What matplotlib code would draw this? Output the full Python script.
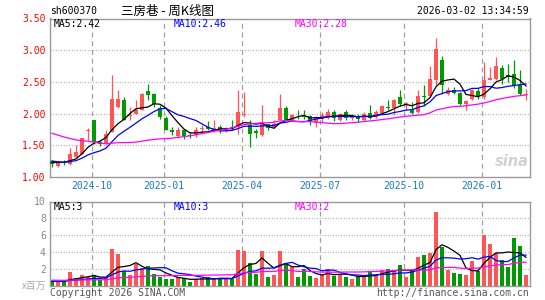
import numpy as np
import pandas as pd
import matplotlib
matplotlib.use("Agg")
import matplotlib.pyplot as plt

plt.rcParams['font.family'] = ['DejaVu Sans Mono']

# weekly OHLC, 80 weeks
opens = [1.247, 1.174, 1.237, 1.211, 1.316, 1.358, 1.726, 1.895, 1.553, 1.526,
         1.711, 2.105, 2.210, 1.958, 2.000, 2.053, 2.353, 2.305, 2.095, 1.937,
         1.737, 1.642, 1.747, 1.658, 1.658, 1.758, 1.789, 1.737, 1.789, 1.726,
         1.789, 1.789, 1.974, 1.816, 1.721, 1.658, 1.832, 1.789, 1.895, 2.095,
         1.905, 1.950, 1.960, 1.958, 1.853, 1.921, 1.937, 2.026, 1.905, 2.026,
         1.937, 1.958, 1.905, 2.011, 1.947, 2.011, 2.100, 2.095, 2.263, 2.150,
         2.053, 2.026, 2.280, 2.274, 2.537, 2.853, 2.316, 2.368, 2.326, 2.147,
         2.237, 2.353, 2.263, 2.537, 2.553, 2.726, 2.605, 2.621, 2.447, 2.300]
highs = [1.263, 1.253, 1.263, 1.463, 1.500, 1.621, 1.774, 1.895, 1.579, 1.737,
         2.605, 2.368, 2.263, 2.105, 2.210, 2.326, 2.463, 2.332, 2.132, 1.958,
         1.789, 1.789, 1.763, 1.711, 1.789, 1.816, 1.884, 1.895, 1.816, 1.789,
         1.895, 2.368, 2.342, 1.905, 1.763, 2.132, 1.842, 1.895, 2.305, 2.116,
         1.990, 2.053, 2.063, 1.974, 1.958, 2.026, 2.079, 2.053, 2.011, 2.053,
         2.000, 2.000, 2.026, 2.132, 2.053, 2.132, 2.221, 2.237, 2.368, 2.184,
         2.184, 2.379, 2.447, 2.747, 3.200, 2.905, 2.421, 2.421, 2.342, 2.210,
         2.395, 2.411, 2.816, 2.737, 2.895, 2.763, 2.779, 2.853, 2.695, 2.395]
lows = [1.158, 1.158, 1.184, 1.184, 1.300, 1.358, 1.579, 1.526, 1.489, 1.526,
        1.711, 2.095, 1.895, 1.895, 2.000, 2.053, 2.210, 2.105, 1.921, 1.737,
        1.658, 1.621, 1.605, 1.621, 1.632, 1.711, 1.737, 1.711, 1.695, 1.711,
        1.737, 1.674, 1.947, 1.474, 1.621, 1.642, 1.747, 1.779, 1.895, 1.895,
        1.895, 1.921, 1.920, 1.816, 1.789, 1.868, 1.921, 1.884, 1.884, 1.905,
        1.905, 1.868, 1.884, 1.921, 1.937, 1.989, 2.063, 1.974, 2.116, 2.063,
        2.000, 2.011, 2.116, 2.263, 2.447, 2.316, 2.289, 2.305, 2.132, 2.063,
        2.221, 2.237, 2.237, 2.526, 2.537, 2.474, 2.500, 2.411, 2.289, 2.210]
closes = [1.211, 1.237, 1.226, 1.358, 1.395, 1.616, 1.747, 1.553, 1.516, 1.684,
          2.226, 2.226, 1.895, 1.979, 2.053, 2.305, 2.289, 2.147, 1.947, 1.747,
          1.711, 1.737, 1.642, 1.642, 1.747, 1.768, 1.763, 1.779, 1.726, 1.779,
          1.763, 2.026, 2.000, 1.684, 1.695, 1.842, 1.779, 1.842, 2.095, 1.905,
          1.974, 1.940, 1.950, 1.884, 1.937, 1.974, 2.026, 1.937, 1.989, 1.937,
          1.958, 1.921, 1.989, 1.937, 2.026, 2.116, 2.090, 2.211, 2.147, 2.160,
          2.011, 2.274, 2.260, 2.553, 3.016, 2.447, 2.379, 2.326, 2.158, 2.200,
          2.368, 2.274, 2.537, 2.568, 2.747, 2.553, 2.580, 2.432, 2.305, 2.310]
# weekly volume, x 1e6
volumes = [0.59, 0.43, 0.47, 1.65, 0.94, 1.26, 0.98, 1.26, 0.67, 0.90,
           4.30, 3.80, 1.70, 1.30, 2.60, 2.10, 2.30, 1.40, 1.00, 0.75,
           0.75, 1.00, 0.90, 0.40, 0.80, 0.90, 1.00, 0.90, 0.80, 0.80,
           0.80, 4.20, 4.10, 2.70, 1.40, 4.10, 1.00, 1.26, 4.10, 2.70,
           2.20, 1.00, 2.00, 1.10, 0.95, 1.26, 2.00, 1.20, 1.40, 1.00,
           0.80, 1.00, 1.30, 1.70, 1.26, 1.85, 2.00, 1.85, 2.40, 1.00,
           1.70, 3.40, 3.70, 3.90, 8.70, 4.60, 1.85, 1.50, 1.40, 1.26,
           2.95, 1.70, 6.00, 4.90, 3.90, 3.00, 2.20, 5.70, 4.70, 1.26]
# earlier weeks, only used to start the moving averages
hist_close = [2.12, 2.08, 2.10, 2.04, 2.00, 1.98, 2.00, 2.02, 1.98, 1.95,
              1.92, 1.90, 1.92, 1.88, 1.85, 1.82, 1.78, 1.72, 1.62, 1.48,
              1.36, 1.30, 1.26, 1.24, 1.22, 1.23, 1.21, 1.24, 1.25]
hist_vol = [0.90, 0.80, 0.85, 0.70, 0.75, 0.90, 0.80, 0.70, 0.65, 0.70,
            0.75, 0.60, 0.70, 0.80, 0.65, 0.60, 0.70, 0.75, 0.60, 0.55,
            0.60, 0.50, 0.55, 0.60, 0.50, 0.45, 0.50, 0.55, 0.50]

month_labels = ['2024-10', '2025-01', '2025-04', '2025-07', '2025-10', '2026-01']
month_pos = [6.72, 18.72, 31.72, 44.72, 58.72, 71.72]
price_ma_text = ['MA5:2.42', 'MA10:2.46', 'MA30:2.28']
vol_ma_text = ['MA5:3', 'MA10:3', 'MA30:2']

RED = '#ff5555'
GREEN = '#009900'
MA_COLORS = ['black', '#0000ff', '#ff00ff']
GRID = '#a0a0a0'

n = len(closes)
x = np.arange(n)
o = np.array(opens); c = np.array(closes)
up = c >= o
cols = [RED if u else GREEN for u in up]

full_c = pd.Series(hist_close + closes)
full_v = pd.Series(hist_vol + volumes)
price_ma = [full_c.rolling(k).mean().values[-n:] for k in (5, 10, 30)]
vol_ma = [full_v.rolling(k).mean().values[-n:] for k in (5, 10, 30)]

fig = plt.figure(figsize=(5.45, 3.0), dpi=100)
W, H = 545.0, 300.0
ax = fig.add_axes([50 / W, 1 - 177 / H, 480 / W, 158.5 / H])
axv = fig.add_axes([50 / W, 1 - 285.7 / H, 480 / W, 84.2 / H])

for a in (ax, axv):
    a.set_xlim(-0.33, n - 0.33)
    for s in a.spines.values():
        s.set_color('#999999')
        s.set_linewidth(1.0)
    a.tick_params(length=0)
    for p in month_pos:
        a.axvline(p, color=GRID, lw=0.9, dashes=(4, 3), zorder=0)

# price panel
ax.set_ylim(1.0, 3.5)
for yv in [1.5, 2.0, 2.5, 3.0]:
    ax.axhline(yv, color=GRID, lw=0.8, dashes=(0.8, 1.6), zorder=0)
ax.vlines(x, lows, highs, colors=cols, lw=0.9, zorder=2)
body = np.maximum(np.abs(c - o), 0.006)
ax.bar(x, body, bottom=np.minimum(o, c), width=0.8, color=cols, lw=0, zorder=3)
for ma, col in zip(price_ma, MA_COLORS):
    ax.plot(x, ma, color=col, lw=0.9, zorder=4)
ax.set_yticks([1.0, 1.5, 2.0, 2.5, 3.0, 3.5])
ax.set_yticklabels(['%.2f' % v for v in [1.0, 1.5, 2.0, 2.5, 3.0, 3.5]],
                   color='#ff0000', fontsize=7)
ax.tick_params(axis='y', pad=3)
ax.set_xticks(month_pos)
ax.set_xticklabels(month_labels, color='#1a78c2', fontsize=7)
ax.tick_params(axis='x', pad=3)
for txt, col, xp in zip(price_ma_text, MA_COLORS, [54, 174, 295]):
    fig.text(xp / W, 1 - 24 / H, txt, color=col, fontsize=7, va='center')
ax.text(0.997, 0.05, 'sina', transform=ax.transAxes, ha='right', va='bottom',
        fontsize=10.5, fontweight='bold', style='italic', color='#d2d2d2',
        family='DejaVu Sans', zorder=1)

# volume panel
axv.set_ylim(0, 10)
for yv in [2, 4, 6, 8]:
    axv.axhline(yv, color=GRID, lw=0.8, dashes=(0.8, 1.6), zorder=0)
axv.bar(x, volumes, width=0.8, color=cols, lw=0, zorder=2)
for ma, col in zip(vol_ma, MA_COLORS):
    axv.plot(x, ma, color=col, lw=0.9, zorder=4)
axv.set_yticks([2, 4, 6, 8, 10])
axv.set_yticklabels(['2', '4', '6', '8', '10'], color='#888888', fontsize=7)
axv.tick_params(axis='y', pad=3)
axv.set_xticks([])
for txt, col, xp in zip(vol_ma_text, MA_COLORS, [54, 174, 295]):
    fig.text(xp / W, 1 - 207 / H, txt, color=col, fontsize=7, va='center')
fig.text(46 / W, 1 - 286 / H, 'x百万', color='#aaaaaa', fontsize=7, ha='right', va='center',
         family=['Noto Sans CJK SC', 'DejaVu Sans'])

# header / footer
fig.text(50 / W, 1 - 11 / H, 'sh600370', fontsize=7, va='center', color='black')
fig.text(121 / W, 1 - 11 / H, '三房巷 - 周K线图', fontsize=9, va='center', color='black',
         family=['Noto Sans CJK SC', 'DejaVu Sans'])
fig.text(529 / W, 1 - 11 / H, '2026-03-02 13:34:59', fontsize=7, va='center', ha='right',
         color='black')
fig.text(50 / W, 1 - 293 / H, 'Copyright 2026 SINA.COM', fontsize=7, va='center', color='#555555')
fig.text(529 / W, 1 - 293 / H, 'http://finance.sina.com.cn', fontsize=7, va='center', ha='right',
         color='#555555')

fig.savefig('out.png', dpi=100, facecolor='white')
